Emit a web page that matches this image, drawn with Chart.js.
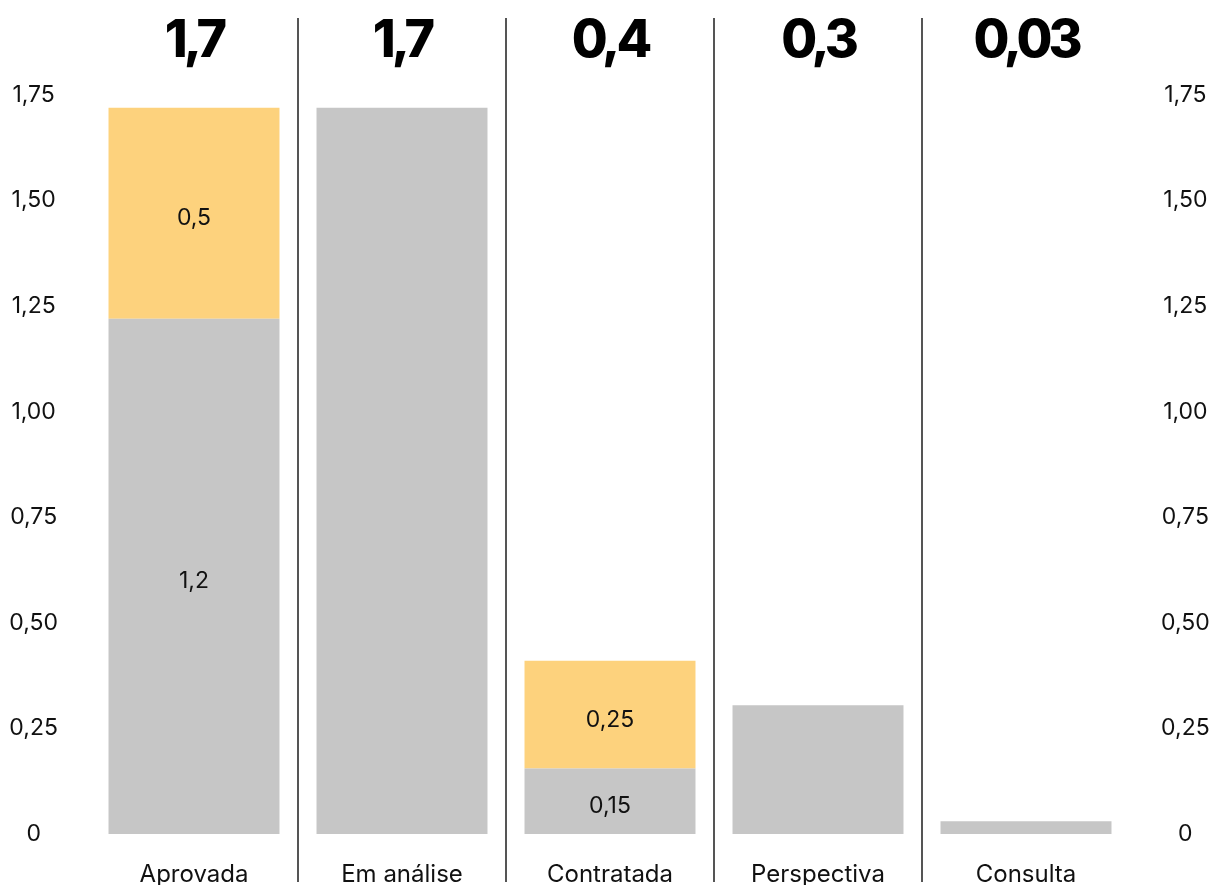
<!DOCTYPE html>
<html>
<head>
<meta charset="utf-8">
<script src="https://cdn.jsdelivr.net/npm/chart.js@4"></script>
<style>
  html, body { margin: 0; padding: 0; background: #fff; }
  #wrap { width: 1211px; height: 885px; }
</style>
</head>
<body>
<div id="wrap"><canvas id="chart" width="1211" height="885"></canvas></div>
<script>
// --- data ---
const categories = ['Aprovada', 'Em análise', 'Contratada', 'Perspectiva', 'Consulta'];
const grayValues = [1.22, 1.72, 0.155, 0.305, 0.03];
const yellowValues = [0.5, 0, 0.255, 0, 0];
const totalLabels = ['1,7', '1,7', '0,4', '0,3', '0,03'];
const grayLabels = ['1,2', '', '0,15', '', ''];
const yellowLabels = ['0,5', '', '0,25', '', ''];
const yTicks = [0, 0.25, 0.5, 0.75, 1, 1.25, 1.5, 1.75];

const GRAY = '#c6c6c6';
const YELLOW = '#fdd27d';
const FONT = 'Inter, "Noto Sans", sans-serif';

const fmtTick = v => v === 0 ? '0' : v.toFixed(2).replace('.', ',');

// separators + labels
const decorPlugin = {
  id: 'decor',
  afterDatasetsDraw(chart) {
    const ctx = chart.ctx;
    const x = chart.scales.x;
    const step = x.getPixelForValue(1) - x.getPixelForValue(0);

    // vertical separators
    ctx.save();
    ctx.strokeStyle = '#555';
    ctx.lineWidth = 2;
    for (let i = 0; i < categories.length - 1; i++) {
      const px = Math.round(x.getPixelForValue(i) + step / 2);
      ctx.beginPath();
      ctx.moveTo(px, 18);
      ctx.lineTo(px, 882);
      ctx.stroke();
    }
    ctx.restore();

    // segment labels
    ctx.save();
    ctx.fillStyle = '#111';
    ctx.font = '23px ' + FONT;
    ctx.textAlign = 'center';
    ctx.textBaseline = 'middle';
    [grayLabels, yellowLabels].forEach((lbls, di) => {
      const meta = chart.getDatasetMeta(di);
      meta.data.forEach((bar, i) => {
        if (!lbls[i]) return;
        const yMid = (bar.y + bar.base) / 2 + 5;
        ctx.fillText(lbls[i], bar.x, yMid);
      });
    });
    ctx.restore();

    // totals on top
    ctx.save();
    ctx.fillStyle = '#000';
    ctx.font = '800 52px ' + FONT;
    ctx.letterSpacing = '-4px';
    ctx.textAlign = 'center';
    ctx.textBaseline = 'alphabetic';
    totalLabels.forEach((t, i) => {
      ctx.fillText(t, x.getPixelForValue(i), 57);
    });
    ctx.restore();
  }
};

const yAxisBase = {
  type: 'linear',
  stacked: true,
  min: 0,
  max: 1.75,
  grid: { display: false, drawTicks: false },
  border: { display: false },
  afterBuildTicks: axis => { axis.ticks = yTicks.map(v => ({ value: v })); },
  ticks: {
    color: '#111',
    font: { family: FONT, size: 23 },
    crossAlign: 'center',
    callback: v => fmtTick(v)
  }
};

new Chart(document.getElementById('chart'), {
  type: 'bar',
  data: {
    labels: categories,
    datasets: [
      { label: 'cinza', data: grayValues, backgroundColor: GRAY, yAxisID: 'y' },
      { label: 'amarelo', data: yellowValues, backgroundColor: YELLOW, yAxisID: 'y' }
    ]
  },
  options: {
    responsive: false,
    animation: false,
    layout: { padding: { top: 95, left: 0, right: 0, bottom: 0 } },
    datasets: { bar: { barPercentage: 0.822, categoryPercentage: 1 } },
    plugins: { legend: { display: false }, tooltip: { enabled: false } },
    scales: {
      x: {
        stacked: true,
        grid: { display: false, drawTicks: false },
        border: { display: false },
        ticks: { color: '#111', font: { family: FONT, size: 24 }, padding: 26, maxRotation: 0 },
        afterFit: axis => { axis.height = 51; }
      },
      y: Object.assign({}, yAxisBase, {
        position: 'left',
        ticks: Object.assign({}, yAxisBase.ticks, { padding: 32 }),
        afterFit: axis => { axis.width = 90; }
      }),
      y2: Object.assign({}, yAxisBase, {
        position: 'right',
        ticks: Object.assign({}, yAxisBase.ticks, { padding: 31 }),
        afterFit: axis => { axis.width = 81; }
      })
    }
  },
  plugins: [decorPlugin]
});
</script>
</body>
</html>
